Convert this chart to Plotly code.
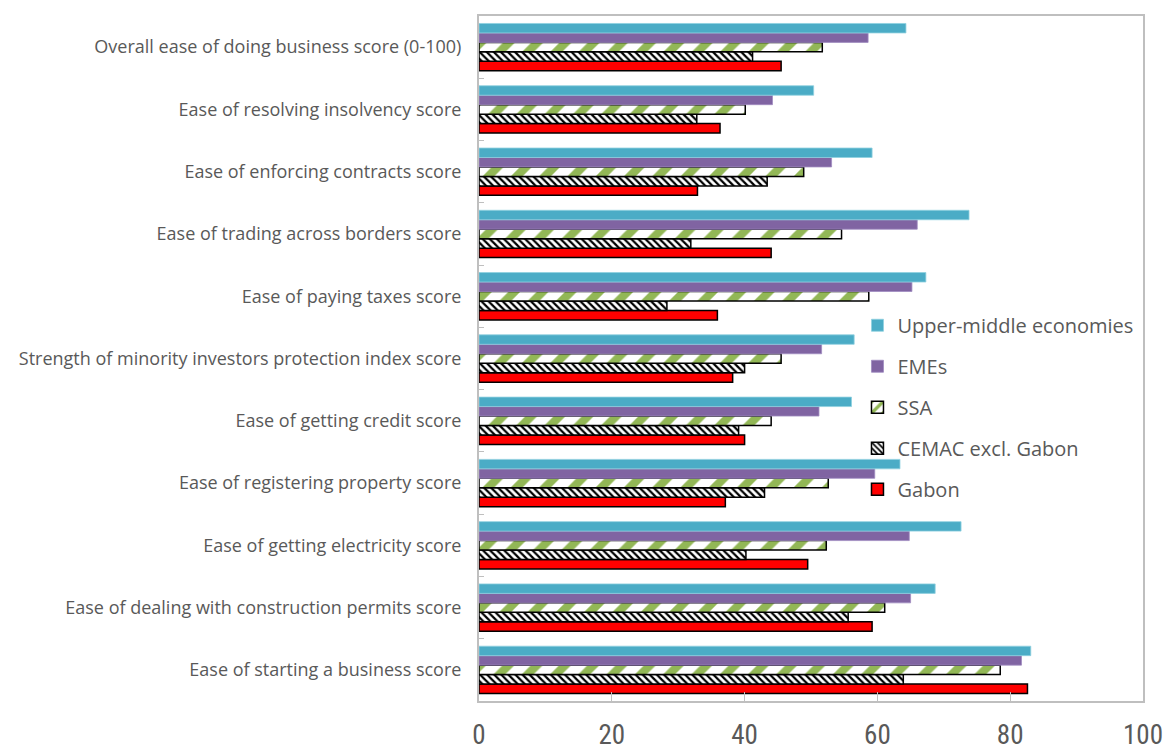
import plotly.graph_objects as go

categories = [
    "Ease of starting a business score",
    "Ease of dealing with construction permits score",
    "Ease of getting electricity score",
    "Ease of registering property score",
    "Ease of getting credit score",
    "Strength of minority investors protection index score",
    "Ease of paying taxes score",
    "Ease of trading across borders score",
    "Ease of enforcing contracts score",
    "Ease of resolving insolvency score",
    "Overall ease of doing business score (0-100)",
]

gabon = [82.6, 59.2, 49.5, 37.1, 40.0, 38.2, 35.9, 44.0, 32.9, 36.3, 45.5]
cemac = [63.9, 55.6, 40.2, 43.0, 39.1, 40.0, 28.3, 31.9, 43.4, 32.8, 41.2]
ssa = [78.5, 61.1, 52.3, 52.6, 44.0, 45.5, 58.7, 54.6, 48.9, 40.1, 51.7]
emes = [81.7, 65.0, 64.8, 59.6, 51.2, 51.6, 65.2, 66.0, 53.1, 44.2, 58.6]
upper_middle = [83.1, 68.7, 72.6, 63.4, 56.1, 56.5, 67.3, 73.8, 59.2, 50.4, 64.3]

x_ticks = [0, 20, 40, 60, 80, 100]

fig = go.Figure()

fig.add_trace(go.Bar(
    y=categories, x=gabon, name="Gabon", orientation="h", legendgroup="g5", legendrank=5,
    marker=dict(color="#FF0000", line=dict(color="#000000", width=1.5)),
))
fig.add_trace(go.Bar(
    y=categories, x=cemac, name="CEMAC excl. Gabon", orientation="h", legendgroup="g4", legendrank=4,
    marker=dict(color="#FFFFFF", line=dict(color="#000000", width=1.5),
                pattern=dict(shape="\\", fgcolor="#000000", bgcolor="#FFFFFF", size=5,
                             solidity=0.45, fgopacity=1)),
))
fig.add_trace(go.Bar(
    y=categories, x=ssa, name="SSA", orientation="h", legendgroup="g3", legendrank=3,
    marker=dict(color="#FFFFFF", line=dict(color="#000000", width=1.5),
                pattern=dict(shape="/", fgcolor="#92B756", bgcolor="#FFFFFF", size=20,
                             solidity=0.42, fgopacity=1)),
))
fig.add_trace(go.Bar(
    y=categories, x=emes, name="EMEs", orientation="h", legendgroup="g2", legendrank=2,
    marker=dict(color="#8064A2", line=dict(color="#A08CC0", width=0.8)),
))
fig.add_trace(go.Bar(
    y=categories, x=upper_middle, name="Upper-middle economies", orientation="h", legendgroup="g1", legendrank=1,
    marker=dict(color="#4BACC6", line=dict(color="#8FD0E0", width=0.8)),
))

fig.update_layout(
    width=1166, height=752,
    margin=dict(l=479, r=23, t=16, b=51),
    paper_bgcolor="#FFFFFF", plot_bgcolor="#FFFFFF",
    barmode="group", bargap=0.24, bargroupgap=0,
    font=dict(family="Open Sans, Noto Sans, sans-serif", color="#595959", size=18),
    showlegend=True,
    legend=dict(
        x=0.57, y=0.577, xanchor="left", yanchor="top",
        traceorder="grouped", tracegroupgap=12,
        font=dict(size=20, color="#595959"),
        bgcolor="rgba(0,0,0,0)",
    ),
    xaxis=dict(
        range=[0, 100], tickvals=x_ticks, ticktext=[str(v) for v in x_ticks],
        showgrid=False, zeroline=False, automargin=False,
        showline=True, mirror=True, linecolor="#BFBFBF", linewidth=2,
        ticks="inside", ticklen=9, tickcolor="#BFBFBF", tickwidth=1,
        ticklabelstandoff=9,
        tickfont=dict(family="Liberation Sans Narrow, Roboto Condensed, Noto Sans, sans-serif", size=27, color="#595959"),
    ),
    yaxis=dict(
        type="category", categoryorder="array", categoryarray=categories,
        showgrid=False, zeroline=False, automargin=False,
        showline=True, mirror=True, linecolor="#BFBFBF", linewidth=2,
        ticks="inside", tickson="boundaries", ticklen=5, tickcolor="#BFBFBF",
        ticklabelstandoff=12,
        tickfont=dict(size=18, color="#595959"),
    ),
)

fig.write_html("out.html")
